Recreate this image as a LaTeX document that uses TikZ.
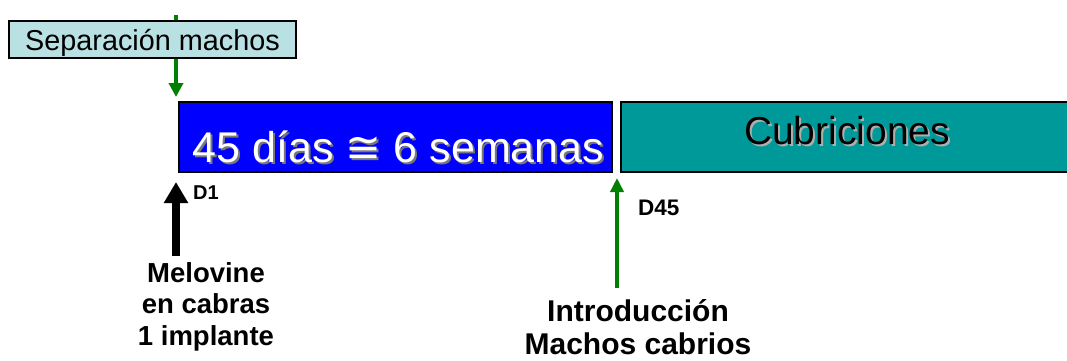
\documentclass[tikz,border=0pt]{standalone}
\usepackage{fontspec}
\setmainfont{Liberation Sans}
\newfontfamily\dejavu{DejaVu Sans}
\usetikzlibrary{arrows.meta}
\definecolor{grn}{RGB}{0,128,0}
\definecolor{lcyan}{RGB}{185,224,226}
\definecolor{tealbar}{RGB}{0,153,153}
\definecolor{bluebar}{RGB}{0,0,255}
\definecolor{shadowgray}{RGB}{120,120,120}
\newcommand\shadowed[2]{\makebox[0pt][l]{\hspace{2pt}\raisebox{-2pt}{\color{#1}#2}}#2}
\tikzset{
  fsz/.style={font={\fontsize{#1}{#1}\selectfont}},
  bar/.style={draw=black, line width=1.5pt, inner sep=0pt, minimum height=70pt},
  lbl/.style={align=center, inner sep=0pt},
  dlbl/.style={inner sep=0pt, anchor=base west},
  grarrow/.style={draw=grn, line width=4pt, -{Triangle[width=14pt,length=14pt]}},
}
\begin{document}
\begin{tikzpicture}[x=1pt,y=-1pt]
\clip (0,0) rectangle (1067,360);
% top green arrow (behind the box)
\coordinate (gtop) at (176,15);
\coordinate (gtip) at (176,97);
\draw[grarrow] (gtop) -- (gtip);
\node[draw=black, line width=1.2pt, fill=lcyan, inner sep=0pt,
      minimum width=287pt, minimum height=37pt, text height=21pt, text depth=0pt,
      fsz=28.8] (sep) at (152.5,39.5) {Separación machos};
% bars
\node[bar, fill=bluebar, minimum width=433pt, text=white, fsz=43,
      text height=50pt, text depth=0pt] (blue) at (395.5,137)
      {\hspace{6pt}\shadowed{shadowgray}{45 días {\dejavu ≅} 6 semanas}};
\node[bar, fill=tealbar, minimum width=452pt, text=black, fsz=39,
      text height=14pt, text depth=0pt] (cub) at (847,137)
      {\shadowed{shadowgray!60}{Cubriciones}};
% black arrow D1
\coordinate (bbot) at (176,256);
\coordinate (btip) at (176,182);
\draw[line width=8pt, -{Triangle[width=23pt,length=21pt]}] (bbot) -- (btip);
\node[dlbl, font={\bfseries\fontsize{20}{20}\selectfont}] (d1) at (193,199) {D1};
% green arrow D45
\coordinate (g2bot) at (617,288);
\coordinate (g2tip) at (617,178);
\draw[draw=grn, line width=4pt, -{Triangle[width=13pt,length=14pt]}] (g2bot) -- (g2tip);
\node[dlbl, font={\bfseries\fontsize{22.5}{22.5}\selectfont}] (d45) at (638,215) {D45};
% bottom labels
\node[lbl, anchor=north, font={\bfseries\fontsize{27.5}{31.5}\selectfont}] (mel) at (206,262) {Melovine\\en cabras\\1 implante};
\node[lbl, anchor=north, font={\bfseries\fontsize{30}{33}\selectfont}] (intro) at (638,299) {Introducción\\Machos cabrios};
\end{tikzpicture}
\end{document}
